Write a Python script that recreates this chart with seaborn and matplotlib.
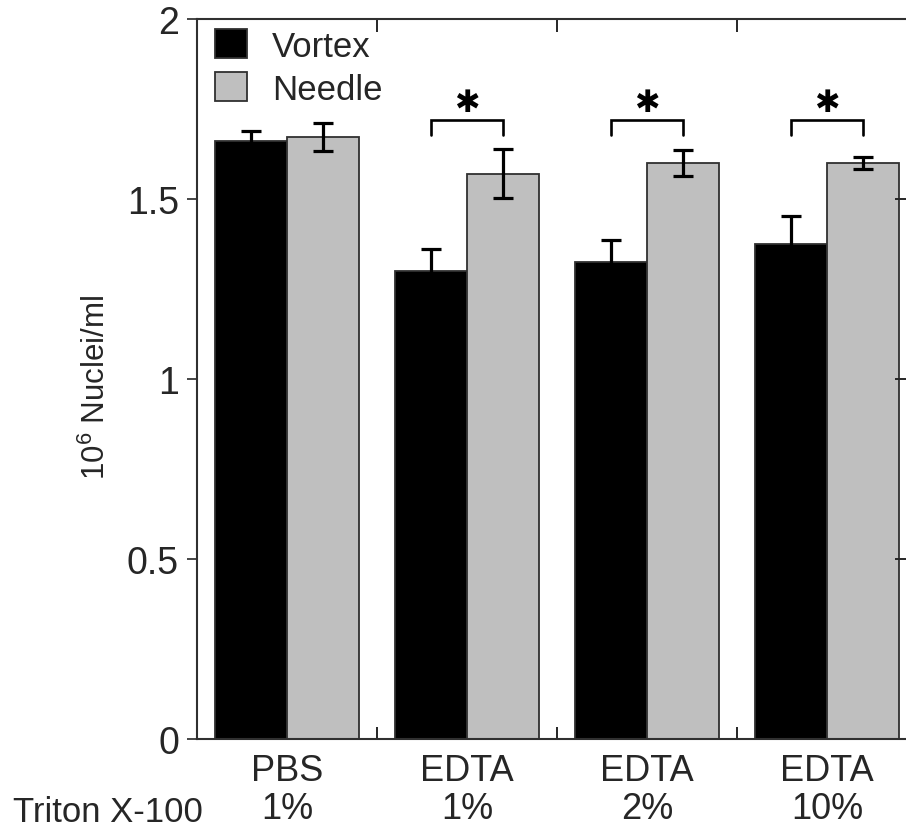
import numpy as np
import pandas as pd
import matplotlib
matplotlib.use("Agg")
import matplotlib.pyplot as plt
import seaborn as sns

# ---- data ----
solutions = ["PBS", "EDTA", "EDTA", "EDTA"]
triton = ["1%", "1%", "2%", "10%"]
methods = ["Vortex", "Needle"]
vortex = [1.66, 1.30, 1.325, 1.375]
vortex_err = [0.03, 0.062, 0.062, 0.078]
needle = [1.672, 1.57, 1.60, 1.60]
needle_err = [0.04, 0.068, 0.035, 0.016]
sig_groups = [1, 2, 3]
bracket_top = [1.719, 1.719, 1.719]
bracket_leg = [1.678, 1.678, 1.678]
star_y = [1.768, 1.768, 1.768]
yticks = [0, 0.5, 1, 1.5, 2]
ytick_labels = ["0", "0.5", "1", "1.5", "2"]

conditions = [f"{s}\n{t}" for s, t in zip(solutions, triton)]
df = pd.DataFrame({
    "condition": conditions * 2,
    "method": [methods[0]] * 4 + [methods[1]] * 4,
    "value": vortex + needle,
})

sns.set_style("white")
plt.rcParams["font.family"] = ["Liberation Sans", "DejaVu Sans"]
plt.rcParams["mathtext.fontset"] = "custom"
plt.rcParams["mathtext.rm"] = "Liberation Sans"

fig = plt.figure(figsize=(9.06, 8.28), dpi=100)
ax = fig.add_axes([197 / 906, 1 - 740 / 828, (907 - 197) / 906, 720 / 828])

sns.barplot(data=df, x="condition", y="value", hue="method", order=conditions,
            hue_order=methods, palette=["black", "#bfbfbf"], edgecolor="#303030",
            linewidth=1.3, width=0.8, errorbar=None, ax=ax, saturation=1)

# error bars on the bar centres from seaborn's bars
centres = []
for cont, vals, errs in zip(ax.containers, [vortex, needle], [vortex_err, needle_err]):
    xs = [b.get_x() + b.get_width() / 2 for b in cont]
    centres.append(xs)
    ax.errorbar(xs, vals, yerr=errs, fmt="none", ecolor="black", elinewidth=2.3,
                capsize=7, capthick=2.3, zorder=5)

# significance brackets
for g, top, leg, sy in zip(sig_groups, bracket_top, bracket_leg, star_y):
    x0, x1 = centres[0][g], centres[1][g]
    ax.plot([x0, x0, x1, x1], [leg, top, top, leg], color="black", lw=1.9,
            solid_joinstyle="miter", clip_on=False)
    ax.text((x0 + x1) / 2, sy, "\u2731", ha="center", va="center", fontsize=22,
            family=["DejaVu Sans"], color="black")

ax.set_xlim(-0.5, 3.444)
ax.set_ylim(0, 2)
ax.set_xlabel("")
ax.set_ylabel(r"$\mathregular{10^6}$ Nuclei/ml", fontsize=22.5)
ax.yaxis.set_label_coords(-0.12, 0.49)

ax.set_yticks(yticks, labels=ytick_labels, fontsize=27)
ax.tick_params(axis="y", direction="out", length=7, width=1.2, left=True, right=False, pad=6)
for t in (ax.yaxis.get_major_ticks()[0], ax.yaxis.get_major_ticks()[-1]):
    t.tick1line.set_visible(False)

ax.set_xticks(range(4), labels=conditions, fontsize=26, linespacing=1.12)
ax.tick_params(axis="x", which="major", length=0, pad=10)
ax.set_xticks([0.5, 1.5, 2.5], minor=True)
ax.tick_params(axis="x", which="minor", direction="in", length=9, width=1.4,
               top=True, bottom=True)

ax2 = ax.twinx()
ax2.set_ylim(0, 2)
ax2.set_yticks([0.5, 1, 1.5])
ax2.tick_params(axis="y", direction="in", length=9, width=1.4, labelright=False)
for sp in ax2.spines.values():
    sp.set_visible(False)

for name, sp in ax.spines.items():
    sp.set_visible(True)
    sp.set_linewidth(1.5)
    sp.set_color("#303030")

leg = ax.legend(loc="upper left", bbox_to_anchor=(18 / 710, 1 - 10 / 720),
                frameon=False, fontsize=25, handlelength=0.92, handleheight=0.92,
                handletextpad=0.72, labelspacing=0.27, borderpad=0, borderaxespad=0)
for h in leg.legend_handles:
    h.set_edgecolor("#303030")

fig.text(13 / 906, 1 - 822 / 828, "Triton X-100", fontsize=25, ha="left", va="baseline")

fig.savefig("out.png", dpi=100)
